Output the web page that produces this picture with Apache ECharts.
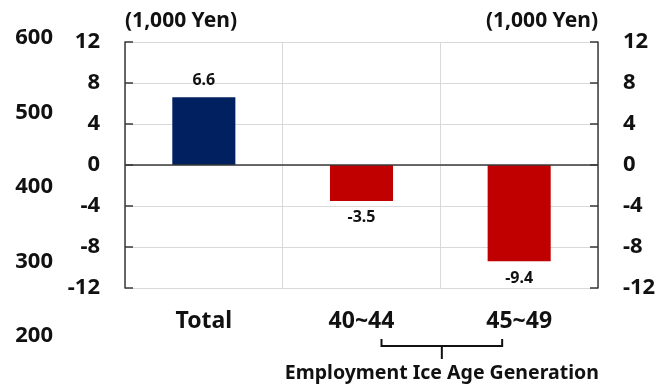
<!DOCTYPE html>
<html>
<head>
<meta charset="utf-8">
<script src="https://cdn.jsdelivr.net/npm/echarts@6/dist/echarts.min.js"></script>
<style>
  html, body { margin: 0; padding: 0; background: #fff; }
  #chart { width: 668px; height: 387px; }
</style>
</head>
<body>
<div id="chart"></div>
<script>
// Change in household income by age group (1,000 Yen)
const categories = ['Total', '40~44', '45~49'];
const values = [6.6, -3.5, -9.4];
// Secondary scale printed at the far left
const outerScale = { min: 200, max: 600, step: 100 };
const mainScale = { min: -12, max: 12, step: 4 };
const unitLabel = '(1,000 Yen)';
const groupLabel = 'Employment Ice Age Generation';
const groupMembers = ['40~44', '45~49'];

const FONT = '"Noto Sans", "DejaVu Sans", sans-serif';
const NAVY = '#002060';
const RED = '#c00000';
const AXIS = '#3a3a3a';
const GRID = '#d9d9d9';

const chart = echarts.init(document.getElementById('chart'), null, { renderer: 'canvas' });

const axisText = { fontFamily: FONT, fontWeight: 'bold', fontSize: 22, color: '#111' };

const option = {
  animation: false,
  backgroundColor: '#fff',
  grid: [
    { left: 125, right: 70, top: 42, bottom: 99 },
    { left: 60, width: 10, top: 38, height: 298 }
  ],
  xAxis: [
    {
      type: 'category',
      gridIndex: 0,
      data: categories,
      position: 'bottom',
      axisLine: { show: false, onZero: false },
      axisTick: { show: false },
      axisLabel: { margin: 22, fontFamily: FONT, fontWeight: 'bold', fontSize: 23, color: '#111' },
      splitLine: { show: true, interval: 0, lineStyle: { color: GRID, width: 1 } }
    },
    { type: 'value', gridIndex: 1, show: false }
  ],
  yAxis: [
    {
      type: 'value', gridIndex: 0, position: 'left',
      min: mainScale.min, max: mainScale.max, interval: mainScale.step,
      axisLine: { show: true, lineStyle: { color: AXIS, width: 1.5 } },
      axisTick: { show: true, inside: true, length: 8, lineStyle: { color: AXIS, width: 1.5 } },
      axisLabel: Object.assign({ margin: 25, align: 'right' }, axisText),
      splitLine: { show: true, lineStyle: { color: GRID, width: 1 } }
    },
    {
      type: 'value', gridIndex: 0, position: 'right',
      min: mainScale.min, max: mainScale.max, interval: mainScale.step,
      axisLine: { show: true, lineStyle: { color: AXIS, width: 1.5 } },
      axisTick: { show: true, inside: true, length: 8, lineStyle: { color: AXIS, width: 1.5 } },
      axisLabel: Object.assign({ margin: 25, align: 'left' }, axisText),
      splitLine: { show: false }
    },
    {
      type: 'value', gridIndex: 1, position: 'left',
      min: outerScale.min, max: outerScale.max, interval: outerScale.step,
      axisLine: { show: false },
      axisTick: { show: false },
      axisLabel: Object.assign({ margin: 7, align: 'right' }, axisText),
      splitLine: { show: false }
    }
  ],
  series: [
    {
      type: 'bar',
      xAxisIndex: 0,
      yAxisIndex: 0,
      barWidth: '40%',
      data: values.map(v => ({
        value: v,
        itemStyle: { color: v >= 0 ? NAVY : RED },
        label: { position: v >= 0 ? 'top' : 'bottom' }
      })),
      label: {
        show: true,
        distance: 9,
        fontFamily: FONT,
        fontWeight: 'bold',
        fontSize: 16,
        color: '#111',
        formatter: p => p.value.toFixed(1)
      },
      markLine: {
        silent: true,
        symbol: 'none',
        label: { show: false },
        lineStyle: { color: AXIS, width: 1.5, type: 'solid' },
        data: [{ yAxis: 0 }]
      }
    }
  ]
};

chart.setOption(option);

// Unit captions and the bracket grouping the two cohorts
function drawAnnotations() {
  const gridRect = chart.getModel().getComponent('grid', 0).coordinateSystem.getRect();
  const topY = gridRect.y;
  const a = chart.convertToPixel({ xAxisIndex: 0 }, groupMembers[0]);
  const b = chart.convertToPixel({ xAxisIndex: 0 }, groupMembers[1]);
  const x1 = a + 20, x2 = b - 17;
  const midX = (x1 + x2) / 2;
  const by = gridRect.y + gridRect.height + 58;
  const textStyle = { fontFamily: FONT, fontWeight: 'bold', fontSize: 21, fill: '#111' };
  chart.setOption({
    graphic: [
      { type: 'text', left: gridRect.x, top: topY - 31,
        style: Object.assign({ text: unitLabel }, textStyle) },
      { type: 'text', right: 668 - (gridRect.x + gridRect.width), top: topY - 31,
        style: Object.assign({ text: unitLabel, textAlign: 'right' }, textStyle) },
      { type: 'polyline', shape: { points: [[x1, by - 7], [x1, by], [x2, by], [x2, by - 7]] },
        style: { stroke: '#111', lineWidth: 2, fill: null } },
      { type: 'line', shape: { x1: midX, y1: by, x2: midX, y2: by + 13 },
        style: { stroke: '#111', lineWidth: 2 } },
      { type: 'text', x: midX, y: by + 27,
        style: { text: groupLabel, fontFamily: FONT, fontWeight: 'bold', fontSize: 19.5, fill: '#111',
                 textAlign: 'center', textVerticalAlign: 'middle' } }
    ]
  });
}
drawAnnotations();
</script>
</body>
</html>
